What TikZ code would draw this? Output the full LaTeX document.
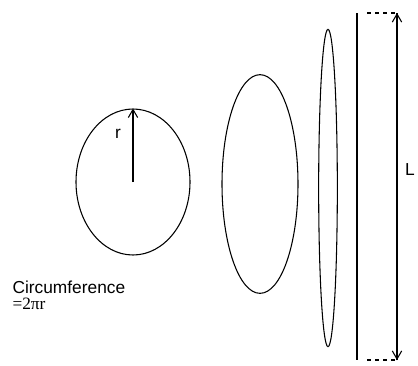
\documentclass[tikz,border=0pt]{standalone}
\usepackage{fontspec}
\setmainfont{Liberation Sans}
\newfontfamily\formulafont{Liberation Serif}
\usetikzlibrary{shapes.geometric,arrows.meta}

\begin{document}
\begin{tikzpicture}[
    x=0.75pt, y=-0.75pt,
    line width=0.8pt,
    loop/.style={ellipse, draw, inner sep=0pt},
    tip/.style={-{Straight Barb[length=6pt,width=7pt]}},
    label/.style={inner sep=0pt, font=\fontsize{13}{15}\selectfont}
]
\useasboundingbox (0,0) rectangle (418,365);

% Shapes, from round to flat
\node[loop, minimum width=85.5pt, minimum height=109.5pt] (circ) at (133,182) {};
\node[loop, minimum width=57pt, minimum height=164pt] (oval) at (260,184) {};
\node[loop, minimum width=14pt, minimum height=238pt] (thin) at (328,188) {};

% Radius
\draw[tip] (circ.center) -- (circ.north);
\node[label] (r) at (118,134) {r};

% Flattened loop and its length
\coordinate (linetop) at (357,13);
\coordinate (linebot) at (357,360);
\draw (linetop) -- (linebot);
\coordinate (Ltop) at (397,13);
\coordinate (Lbot) at (397,360);
\draw[dashed] ([xshift=7.5pt]linetop) -- (Ltop);
\draw[dashed] ([xshift=7.5pt]linebot) -- (Lbot);
\draw[tip] (Ltop) -- (Lbot);
\draw[tip] (Lbot) -- (Ltop);
\node[label] (L) at (410,170) {L};

% Caption
\node[label, anchor=base west] (circtext) at (12,293) {Circumference};
\node[label, anchor=base west] (formula) at (12,309) {\formulafont =2πr};

\end{tikzpicture}
\end{document}
